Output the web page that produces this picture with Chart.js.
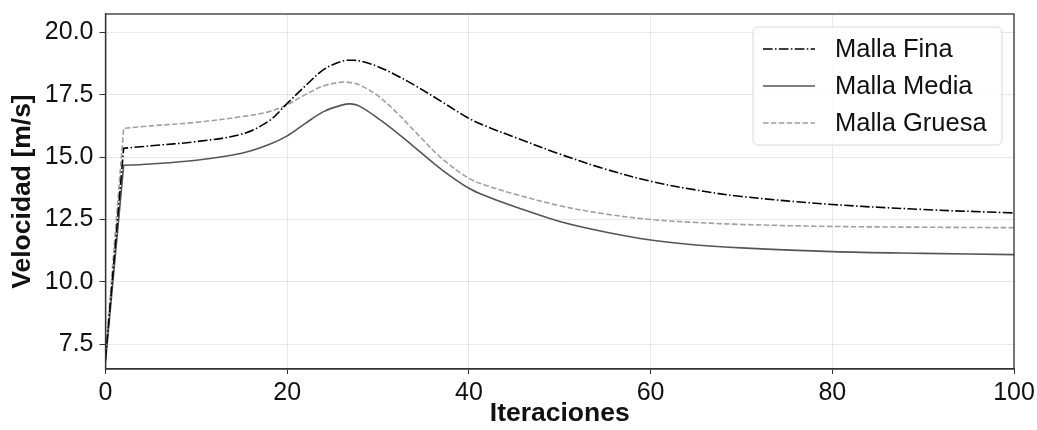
<!DOCTYPE html>
<html>
<head>
<meta charset="utf-8">
<script src="https://cdn.jsdelivr.net/npm/chart.js@4.4.0/dist/chart.umd.min.js"></script>
<style>
  html, body { margin: 0; padding: 0; background: #fff; }
</style>
</head>
<body>
<canvas id="grafico" width="1037" height="430"></canvas>
<script>
// valores
const iteraciones = [0, 2, 5, 10, 15, 18, 20, 22, 24, 26, 27, 28, 30, 32, 34, 37, 40, 42, 45, 50, 55, 60, 65, 70, 80, 90, 100]
const mallaFina   = [6.9, 15.35, 15.45, 15.62, 15.92, 16.45, 17.15, 17.85, 18.5, 18.84, 18.88, 18.85, 18.62, 18.28, 17.88, 17.22, 16.55, 16.22, 15.8, 15.12, 14.52, 14.03, 13.68, 13.42, 13.1, 12.9, 12.76]
const mallaMedia  = [6.8, 14.67, 14.72, 14.87, 15.15, 15.5, 15.85, 16.35, 16.82, 17.08, 17.13, 17.03, 16.55, 16.0, 15.4, 14.5, 13.75, 13.42, 13.02, 12.42, 12.0, 11.68, 11.48, 11.36, 11.21, 11.14, 11.09]
const mallaGruesa = [7.05, 16.15, 16.25, 16.39, 16.62, 16.82, 17.1, 17.5, 17.85, 18.0, 17.98, 17.88, 17.45, 16.8, 16.05, 14.95, 14.15, 13.85, 13.52, 13.05, 12.72, 12.5, 12.38, 12.3, 12.22, 12.19, 12.17]
const xTicks = [0, 20, 40, 60, 80, 100]
const yTicks = [7.5, 10, 12.5, 15, 17.5, 20]

const fuente = '"Liberation Sans", Arial, sans-serif'

function puntos(valores) {
    return iteraciones.map((x, i) => ({x: x, y: valores[i]}))
}

// la subida inicial (0 -> 2) es recta, esquina viva en la iteracion 2
const esquina = {
    id: 'esquina',
    beforeDatasetDraw(chart, args) {
        const meta = args.meta
        meta.dataset.updateControlPoints(chart.chartArea, 'x')
        const p0 = meta.data[0], p1 = meta.data[1]
        p0.cp2x = p0.x; p0.cp2y = p0.y
        p1.cp1x = p1.x; p1.cp1y = p1.y
        p1.cp2x = p1.x; p1.cp2y = p1.y
    }
}

// marco alrededor del area
const marco = {
    id: 'marco',
    afterDatasetsDraw(chart) {
        const {ctx, chartArea: a} = chart
        ctx.save()
        ctx.strokeStyle = '#333'
        ctx.lineWidth = 1.3
        ctx.strokeRect(a.left, a.top, a.right - a.left, a.bottom - a.top)
        ctx.restore()
    }
}

// leyenda dentro del grafico
const leyenda = {
    id: 'leyenda',
    afterDraw(chart) {
        const {ctx, chartArea: a} = chart
        const x0 = a.right - 261, y0 = a.top + 13, w = 249, h = 118
        ctx.save()
        ctx.beginPath()
        ctx.roundRect(x0, y0, w, h, 5)
        ctx.fillStyle = 'rgba(255,255,255,0.8)'
        ctx.fill()
        ctx.strokeStyle = '#d8d8d8'
        ctx.lineWidth = 1
        ctx.stroke()
        chart.data.datasets.forEach((ds, i) => {
            const y = y0 + 22 + i * 37
            ctx.beginPath()
            ctx.setLineDash(ds.borderDash || [])
            ctx.strokeStyle = ds.borderColor
            ctx.lineWidth = ds.borderWidth
            ctx.moveTo(x0 + 10, y)
            ctx.lineTo(x0 + 62, y)
            ctx.stroke()
            ctx.setLineDash([])
            ctx.fillStyle = '#111'
            ctx.font = '25.5px ' + fuente
            ctx.textBaseline = 'middle'
            ctx.fillText(ds.label, x0 + 82, y + 1)
        })
        ctx.restore()
    }
}

new Chart(document.getElementById('grafico'), {
    type: 'line',
    data: {
        datasets: [
            {label: 'Malla Fina', data: puntos(mallaFina), borderColor: '#000', borderWidth: 1.6, borderDash: [9.6, 2.4, 1.5, 2.4]},
            {label: 'Malla Media', data: puntos(mallaMedia), borderColor: '#555', borderWidth: 1.6},
            {label: 'Malla Gruesa', data: puntos(mallaGruesa), borderColor: '#a0a0a0', borderWidth: 1.6, borderDash: [5.5, 2.4]}
        ]
    },
    options: {
        responsive: false,
        animation: false,
        devicePixelRatio: 1,
        layout: {padding: {left: 0, right: 23, top: 14, bottom: 0}},
        elements: {point: {radius: 0}, line: {tension: 0.35, fill: false}},
        plugins: {legend: {display: false}, tooltip: {enabled: false}},
        scales: {
            x: {
                type: 'linear', min: 0, max: 100,
                afterBuildTicks: s => { s.ticks = xTicks.map(v => ({value: v})) },
                afterFit: s => { s.height = 61; s.paddingLeft = 0; s.paddingRight = 0 },
                grid: {color: 'rgba(0,0,0,0.09)', tickColor: '#333', tickLength: 5},
                border: {color: '#333', width: 1.3},
                ticks: {color: '#111', font: {size: 25, family: fuente}, padding: 4, maxRotation: 0},
                title: {display: true, text: 'Iteraciones', color: '#111', font: {size: 26.5, weight: 'bold', family: fuente}, padding: {top: 0, bottom: 0}}
            },
            y: {
                type: 'linear', min: 6.51, max: 20.73,
                afterBuildTicks: s => { s.ticks = yTicks.map(v => ({value: v})) },
                afterFit: s => { s.width = 105.5; s.paddingTop = 0; s.paddingBottom = 0 },
                grid: {color: 'rgba(0,0,0,0.09)', tickColor: '#333', tickLength: 6},
                border: {color: '#333', width: 1.3},
                ticks: {color: '#111', font: {size: 25, family: fuente}, padding: 6, callback: v => v.toFixed(1)},
                title: {display: true, text: 'Velocidad [m/s]', color: '#111', font: {size: 26.5, weight: 'bold', family: fuente}, padding: {top: 7, bottom: 0}}
            }
        }
    },
    plugins: [esquina, marco, leyenda]
})
</script>
</body>
</html>
